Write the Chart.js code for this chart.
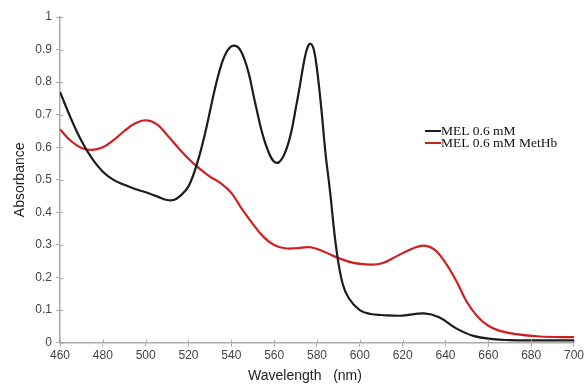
<!DOCTYPE html>
<html>
<head>
<meta charset="utf-8">
<script src="https://cdn.jsdelivr.net/npm/chart.js@4/dist/chart.umd.min.js"></script>
<style>
html,body{margin:0;padding:0;background:#fff;}
#wrap{width:586px;height:384px;}
</style>
</head>
<body>
<div id="wrap"><canvas id="c" width="586" height="384"></canvas></div>
<script>
// Data
const seriesLabels = ["MEL 0.6 mM", "MEL 0.6 mM MetHb"];
const xTitle = "Wavelength   (nm)";
const yTitle = "Absorbance";

const melWavelength = [460,465,470,475,480,485,490,495,500,505,510,513,516,520,524,528,532,535.5,538.5,541.5,544.5,548,551,556,561,566,570.5,574,575.5,577,578.5,580,582,584,586,589,592,595,600,605,610,620,630,637,645,653,662,670,680,700];
const melAbsorbance = [0.77,0.69,0.62,0.565,0.525,0.50,0.485,0.472,0.462,0.45,0.438,0.438,0.45,0.48,0.55,0.65,0.77,0.857,0.9,0.912,0.895,0.83,0.74,0.61,0.552,0.6,0.734,0.865,0.905,0.918,0.9,0.84,0.72,0.58,0.47,0.29,0.18,0.135,0.10,0.088,0.085,0.083,0.09,0.078,0.044,0.021,0.011,0.008,0.007,0.007];

const metWavelength = [460,465,470,475,480,485,490,495,500,505,510,515,520,525,530,535,540,545,550,555,560,565,570,577,583,590,597,605,610,615,620,625,630,635,640,645,650,655,660,665,672,684,700];
const metAbsorbance = [0.655,0.62,0.598,0.592,0.600,0.622,0.650,0.673,0.683,0.672,0.638,0.60,0.565,0.535,0.51,0.49,0.46,0.41,0.365,0.325,0.30,0.29,0.29,0.293,0.28,0.26,0.245,0.24,0.243,0.258,0.275,0.29,0.298,0.285,0.245,0.19,0.125,0.08,0.052,0.037,0.027,0.019,0.017];

const seriesColors = ["#1c1c1c", "#d01f1f"];

function pts(xs, ys){ return xs.map((x,i)=>({x:x, y:ys[i]})); }

const axisColor = "#aaaaaa";
const tickFont = {family: "'Liberation Sans', Arial, sans-serif", size: 12};

const extras = {
  id: "extras",
  afterDraw(chart){
    const ctx = chart.ctx;
    const xs = chart.scales.x, ys = chart.scales.y;
    const area = chart.chartArea;
    ctx.save();
    // inward tick halves
    ctx.strokeStyle = axisColor;
    ctx.lineWidth = 1;
    ys.ticks.forEach(t=>{
      const p = Math.round(ys.getPixelForValue(t.value)) + 0.5;
      ctx.beginPath(); ctx.moveTo(area.left, p); ctx.lineTo(area.left + 3, p); ctx.stroke();
    });
    xs.ticks.forEach(t=>{
      const p = Math.round(xs.getPixelForValue(t.value)) + 0.5;
      ctx.beginPath(); ctx.moveTo(p, area.bottom); ctx.lineTo(p, area.bottom - 3); ctx.stroke();
    });
    // axis titles
    ctx.fillStyle = "#222";
    ctx.font = "14px 'Liberation Sans', Arial, sans-serif";
    ctx.textAlign = "center";
    ctx.textBaseline = "middle";
    ctx.fillText(xTitle, 305, 376);
    ctx.save();
    ctx.translate(20, (area.top + area.bottom) / 2);
    ctx.rotate(-Math.PI / 2);
    ctx.fillText(yTitle, 0, 0);
    ctx.restore();
    // legend
    ctx.font = "13.5px 'Liberation Serif', 'Times New Roman', serif";
    ctx.textAlign = "left";
    chart.data.datasets.forEach((ds, i)=>{
      const y = 131 + i * 12;
      ctx.strokeStyle = ds.borderColor;
      ctx.lineWidth = 2;
      ctx.beginPath(); ctx.moveTo(425, y); ctx.lineTo(441, y); ctx.stroke();
      ctx.fillStyle = "#111";
      ctx.fillText(ds.label, 441, y);
    });
    ctx.restore();
  }
};

new Chart(document.getElementById("c"), {
  type: "line",
  data: {
    datasets: [
      {label: seriesLabels[0], data: pts(melWavelength, melAbsorbance), borderColor: seriesColors[0], borderWidth: 2.2, pointRadius: 0, tension: 0.4, fill: false},
      {label: seriesLabels[1], data: pts(metWavelength, metAbsorbance), borderColor: seriesColors[1], borderWidth: 2.2, pointRadius: 0, tension: 0.4, fill: false}
    ]
  },
  options: {
    responsive: false,
    animation: false,
    devicePixelRatio: 1,
    layout: {padding: {left: 0, right: 12, top: 17, bottom: 0}},
    plugins: {legend: {display: false}, tooltip: {enabled: false}},
    scales: {
      x: {
        type: "linear", min: 460, max: 700,
        afterFit(s){ s.height = 41.3; },
        ticks: {stepSize: 20, color: "#444", font: tickFont, padding: 2, maxRotation: 0},
        grid: {drawOnChartArea: false, color: axisColor, tickLength: 4, tickWidth: 1},
        border: {color: axisColor, width: 1.5}
      },
      y: {
        min: 0, max: 1,
        afterFit(s){ s.width = 60; },
        ticks: {stepSize: 0.1, color: "#444", font: tickFont, padding: 4,
          callback: v => String(Math.round(v * 10) / 10)},
        grid: {drawOnChartArea: false, color: axisColor, tickLength: 4, tickWidth: 1},
        border: {color: axisColor, width: 1.5}
      }
    }
  },
  plugins: [extras]
});
</script>
</body>
</html>
